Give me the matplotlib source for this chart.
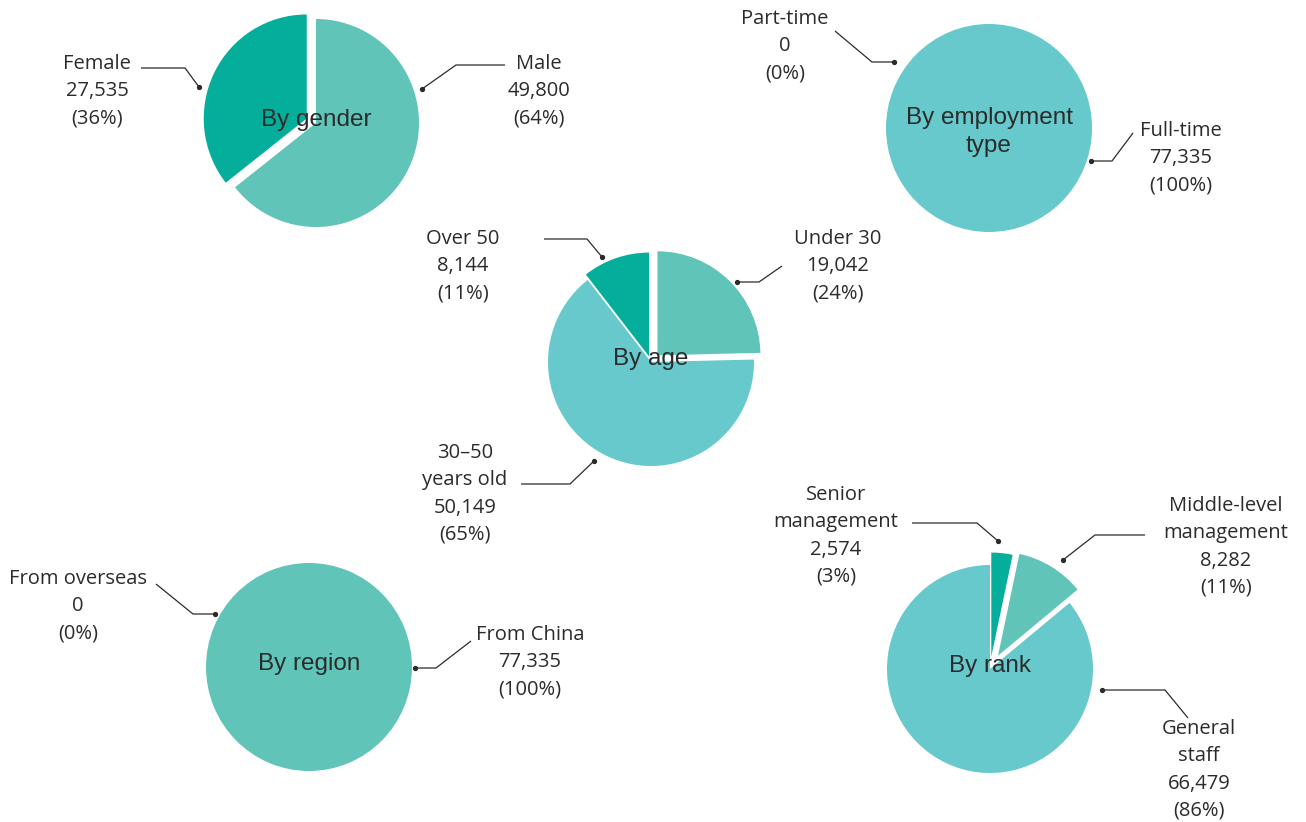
import matplotlib
matplotlib.use("Agg")
import matplotlib.pyplot as plt

# colours used in the chart
DARK = "#04AE9A"
MID = "#60C4B8"
LIGHT = "#67C9CB"
INK = "#2B2B2B"

# --- data ---------------------------------------------------------------
gender_names = ["Male", "Female"]
gender_values = [49800, 27535]
gender_pct = ["64%", "36%"]

employ_names = ["Part-time", "Full-time"]
employ_values = [0, 77335]
employ_pct = ["0%", "100%"]

age_names = ["Under 30", "30\u201350\nyears old", "Over 50"]
age_values = [19042, 50149, 8144]
age_pct = ["24%", "65%", "11%"]

region_names = ["From overseas", "From China"]
region_values = [0, 77335]
region_pct = ["0%", "100%"]

rank_names = ["Senior\nmanagement", "Middle-level\nmanagement", "General\nstaff"]
rank_values = [2574, 8282, 66479]
rank_pct = ["3%", "11%", "86%"]

W, H = 1306, 822
fig = plt.figure(figsize=(W / 100, H / 100), dpi=100)

RX, RY = 103, 104
LIM = 1.4


def draw_pie(cx, cy, values, colors, explode, title, title_dy=3):
    # put an axes over the figure so that a unit circle is RX x RY pixels
    left = (cx - LIM * RX) / W
    bottom = 1 - (cy + LIM * RY) / H
    ax = fig.add_axes([left, bottom, 2 * LIM * RX / W, 2 * LIM * RY / H])
    ax.pie(values, colors=colors, explode=explode, startangle=90,
           counterclock=False, radius=1,
           wedgeprops=dict(linewidth=0))
    ax.set_aspect("auto")
    ax.set_xlim(-LIM, LIM)
    ax.set_ylim(-LIM, LIM)
    ax.axis("off")
    ax.text(0, title_dy / RY, title, ha="center", va="center", fontsize=17.5,
            family="Liberation Sans", color=INK, linespacing=1.4)
    return ax


draw_pie(316, 123, gender_values, [MID, DARK], [0, 0.1], "By gender")
draw_pie(989, 128, employ_values, [LIGHT, LIGHT], [0, 0], "By employment\ntype",
         title_dy=-4)
draw_pie(651, 362, age_values, [MID, LIGHT, DARK], [0.09, 0, 0.055], "By age")
draw_pie(309, 667, region_values, [MID, MID], [0, 0], "By region")
draw_pie(990, 669, rank_values, [DARK, MID, LIGHT], [0.12, 0.15, 0], "By rank")

# overlay in pixel coordinates for labels and leader lines
ov = fig.add_axes([0, 0, 1, 1], zorder=5)
ov.set_xlim(0, W)
ov.set_ylim(H, 0)
ov.axis("off")


def label(name, value, pct, x, y, leader):
    txt = "%s\n%s\n(%s)" % (name, format(value, ","), pct)
    ov.text(x, y, txt, ha="center", va="center", fontsize=14.5,
            family="Open Sans", color=INK, linespacing=1.47)
    xs = [p[0] for p in leader]
    ys = [p[1] for p in leader]
    ov.plot(xs, ys, color=INK, lw=0.9, solid_capstyle="butt")
    ov.plot(xs[-1], ys[-1], "o", color=INK, ms=2.8)


# gender
label(gender_names[1], gender_values[1], gender_pct[1], 97, 91,
      [(141, 68), (185, 68), (199, 87)])
label(gender_names[0], gender_values[0], gender_pct[0], 539, 91,
      [(505, 65), (456, 65), (422, 89)])
# employment
label(employ_names[0], employ_values[0], employ_pct[0], 785, 46,
      [(835, 31), (872, 62), (894, 62)])
label(employ_names[1], employ_values[1], employ_pct[1], 1181, 158,
      [(1133, 133), (1112, 161), (1091, 161)])
# age
label(age_names[2], age_values[2], age_pct[2], 463, 266,
      [(544, 239), (587, 239), (602, 257)])
label(age_names[0], age_values[0], age_pct[0], 838, 266,
      [(782, 266), (759, 282), (737, 282)])
label(age_names[1], age_values[1], age_pct[1], 465, 494,
      [(521, 484), (570, 484), (594, 461)])
# region
label(region_names[0], region_values[0], region_pct[0], 78, 606,
      [(156, 584), (193, 614), (215, 614)])
label(region_names[1], region_values[1], region_pct[1], 530, 662,
      [(471, 641), (436, 668), (415, 668)])
# rank
label(rank_names[0], rank_values[0], rank_pct[0], 836, 536,
      [(912, 523), (977, 523), (998, 541)])
label(rank_names[1], rank_values[1], rank_pct[1], 1226, 547,
      [(1145, 535), (1095, 535), (1063, 560)])
label(rank_names[2], rank_values[2], rank_pct[2], 1199, 770,
      [(1188, 718), (1165, 690), (1102, 690)])

fig.savefig("out.png", dpi=100, facecolor="white")
